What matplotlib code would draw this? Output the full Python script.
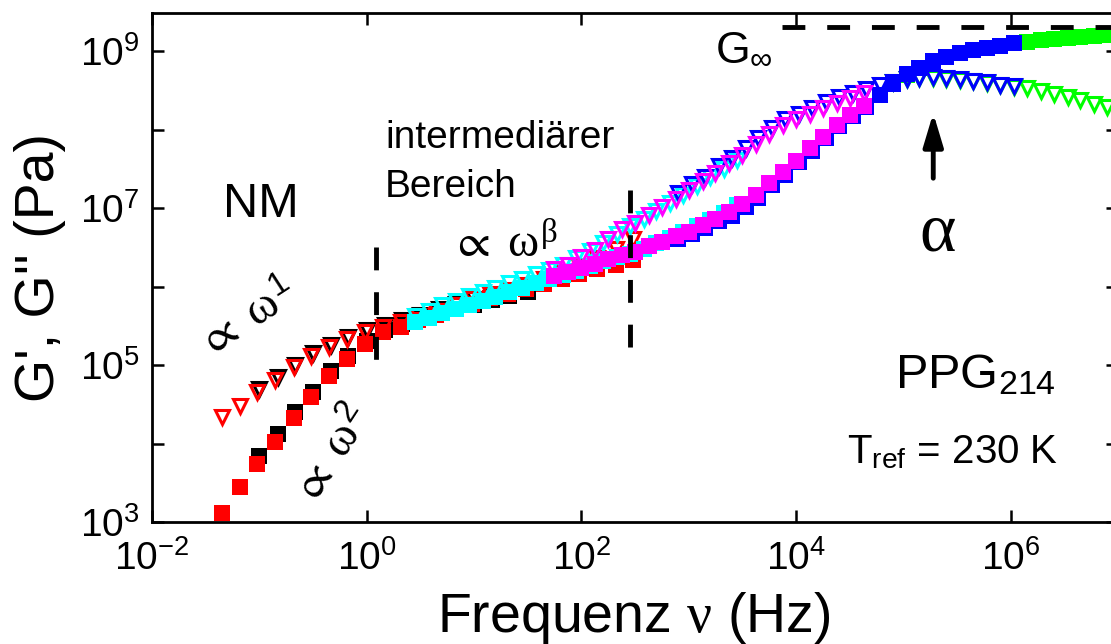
import matplotlib.pyplot as plt
import numpy as np
from matplotlib.ticker import FixedLocator, NullFormatter, NullLocator

plt.rcParams['font.family'] = ['Liberation Sans', 'DejaVu Sans']
plt.rcParams['mathtext.fontset'] = 'custom'
plt.rcParams['mathtext.rm'] = 'Liberation Sans'
plt.rcParams['mathtext.it'] = 'Liberation Serif'
plt.rcParams['mathtext.bf'] = 'Liberation Sans:bold'
plt.rcParams['mathtext.fallback'] = 'stix'

# master curve, shifted to T_ref = 230 K
# all values as log10: frequency (Hz), G' (Pa), G'' (Pa)
lf_black = [-1.00, -0.83, -0.67, -0.50, -0.33, -0.17, 0.00, 0.17, 0.33, 0.50, 0.67, 0.83,
            1.00, 1.17, 1.33, 1.50]
gp_black = [3.84, 4.12, 4.40, 4.66, 4.92, 5.12, 5.31, 5.45, 5.52, 5.60, 5.66, 5.72,
            5.77, 5.83, 5.88, 5.93]
gpp_black = [4.70, 4.85, 5.00, 5.15, 5.26, 5.36, 5.44, 5.51, 5.57, 5.64, 5.71, 5.78,
             5.84, 5.89, 5.93, 5.97]

lf_red = [-1.35, -1.18, -1.02, -0.85, -0.68, -0.52, -0.35, -0.18, -0.02, 0.15, 0.32, 0.48,
          0.65, 0.82, 0.98, 1.15, 1.32, 1.48, 1.65, 1.82, 1.98, 2.15, 2.32, 2.48]
gp_red = [3.12, 3.44, 3.74, 4.02, 4.33, 4.59, 4.86, 5.08, 5.27, 5.42, 5.49, 5.57,
          5.64, 5.71, 5.78, 5.85, 5.91, 5.97, 6.03, 6.10, 6.16, 6.22, 6.28, 6.34]
gpp_red = [4.34, 4.48, 4.66, 4.81, 4.97, 5.12, 5.23, 5.33, 5.42, 5.49, 5.55, 5.62,
           5.69, 5.77, 5.84, 5.90, 5.96, 6.02, 6.10, 6.18, 6.26, 6.36, 6.48, 6.60]

lf_cyan = [0.45, 0.58, 0.70, 0.83, 0.95, 1.08, 1.20, 1.33, 1.45, 1.58, 1.70, 1.83, 1.95,
           2.08, 2.20, 2.33, 2.45, 2.58, 2.70, 2.83, 2.95, 3.08, 3.20, 3.33, 3.45]
gp_cyan = [5.55, 5.60, 5.66, 5.72, 5.77, 5.82, 5.87, 5.93, 5.98, 6.04, 6.09, 6.15, 6.20,
           6.26, 6.32, 6.37, 6.42, 6.48, 6.55, 6.62, 6.69, 6.77, 6.85, 6.94, 7.04]
gpp_cyan = [5.63, 5.69, 5.76, 5.82, 5.88, 5.93, 5.98, 6.04, 6.10, 6.16, 6.21, 6.27, 6.36,
            6.45, 6.56, 6.67, 6.77, 6.86, 6.96, 7.06, 7.17, 7.28, 7.39, 7.50, 7.61]

lf_magenta = [1.75, 1.88, 2.00, 2.13, 2.25, 2.38, 2.50, 2.63, 2.75, 2.88, 3.00, 3.13,
              3.25, 3.38, 3.50, 3.63, 3.75, 3.88, 4.00, 4.13, 4.25, 4.38, 4.50, 4.63]
gp_magenta = [6.13, 6.19, 6.23, 6.29, 6.35, 6.40, 6.44, 6.51, 6.57, 6.64, 6.70, 6.78,
              6.86, 6.95, 7.05, 7.17, 7.32, 7.46, 7.60, 7.76, 7.91, 8.06, 8.19, 8.30]
gpp_magenta = [6.22, 6.28, 6.37, 6.47, 6.60, 6.73, 6.81, 6.91, 7.01, 7.12, 7.23, 7.34,
               7.45, 7.57, 7.68, 7.81, 7.94, 8.06, 8.14, 8.20, 8.27, 8.34, 8.40, 8.46]

lf_blue = [2.90, 3.03, 3.15, 3.28, 3.40, 3.53, 3.65, 3.78, 3.90, 4.03, 4.15, 4.28, 4.40,
           4.53, 4.65, 4.78, 4.90, 5.03, 5.15, 5.28, 5.40, 5.53, 5.65, 5.78, 5.90, 6.03]
gp_blue = [6.60, 6.67, 6.74, 6.83, 6.90, 7.01, 7.13, 7.29, 7.42, 7.58, 7.73, 7.89, 8.04,
           8.17, 8.29, 8.44, 8.58, 8.71, 8.79, 8.87, 8.92, 8.97, 9.01, 9.04, 9.07, 9.10]
gpp_blue = [7.19, 7.30, 7.40, 7.53, 7.64, 7.76, 7.89, 8.02, 8.13, 8.20, 8.27, 8.35, 8.41,
            8.46, 8.51, 8.57, 8.61, 8.645, 8.66, 8.665, 8.655, 8.64, 8.62, 8.60, 8.57, 8.55]

lf_green = [4.90, 5.03, 5.15, 5.28, 5.40, 5.53, 5.65, 5.78, 5.90, 6.03, 6.15, 6.28,
            6.40, 6.53, 6.65, 6.78, 6.90]
gp_green = [8.58, 8.70, 8.78, 8.86, 8.92, 8.97, 9.01, 9.04, 9.07, 9.10, 9.12, 9.14,
            9.155, 9.165, 9.18, 9.19, 9.205]
gpp_green = [8.60, 8.64, 8.655, 8.66, 8.65, 8.635, 8.615, 8.595, 8.565, 8.545, 8.525,
             8.485, 8.45, 8.415, 8.38, 8.33, 8.29]

series = [
    (lf_black, gp_black, gpp_black, '#000000'),
    (lf_red, gp_red, gpp_red, '#ff0000'),
    (lf_cyan, gp_cyan, gpp_cyan, '#00ffff'),
    (lf_green, gp_green, gpp_green, '#00ff00'),
    (lf_blue, gp_blue, gpp_blue, '#0000ff'),
    (lf_magenta, gp_magenta, gpp_magenta, '#ff00ff'),
]

# region borders, G_inf level and alpha peak
nu_nm = 1.22
nu_int = 285.0
g_inf = 2.05e9
nu_alpha = 1.9e5

fig = plt.figure(figsize=(11.11, 6.44), dpi=100)
ax = fig.add_axes([0.1368, 0.1894, 0.8695, 0.7904])

for lf, lgp, lgpp, col in series:
    f = 10 ** np.array(lf)
    ax.plot(f, 10 ** np.array(lgpp), 'v', ls='none', ms=10.5, mfc='none', mec=col, mew=2.2)
    ax.plot(f, 10 ** np.array(lgp), 's', ls='none', ms=11.5, mfc=col, mec=col, mew=0)

ax.set_xscale('log')
ax.set_yscale('log')
ax.set_xlim(1e-2, 1e7)
ax.set_ylim(1e3, 3.05e9)

ax.xaxis.set_major_locator(FixedLocator([1e-2, 1e0, 1e2, 1e4, 1e6]))
ax.xaxis.set_minor_locator(NullLocator())
ax.yaxis.set_major_locator(FixedLocator([1e3, 1e5, 1e7, 1e9]))
ax.yaxis.set_minor_locator(FixedLocator([1e4, 1e6, 1e8]))
ax.yaxis.set_minor_formatter(NullFormatter())
ax.tick_params(which='both', direction='in', top=True, right=True,
               length=8.5, width=1.8, labelsize=28)
ax.tick_params(axis='x', pad=13)
ax.tick_params(axis='y', pad=9)
for sp in ax.spines.values():
    sp.set_linewidth(2)

# dashed markers
dash = dict(color='k', lw=3.5, dashes=(4.7, 4.5))
ax.plot([nu_nm, nu_nm], [10 ** 6.50, 10 ** 5.06], **dash)
ax.plot([nu_int, nu_int], [10 ** 7.23, 10 ** 5.19], **dash)
ax.plot([10 ** 3.87, 1e7], [g_inf, g_inf], **dash)

ax.annotate('', xy=(nu_alpha, 10 ** 8.21), xytext=(nu_alpha, 10 ** 7.38),
            arrowprops=dict(arrowstyle='-|>,head_width=0.3,head_length=1.0',
                            mutation_scale=20, lw=3.5, color='k',
                            shrinkA=0, shrinkB=0))
ax.text(10 ** 5.316, 10 ** 6.465, 'α', fontsize=50, ha='center', va='baseline',
        family=['Liberation Serif', 'DejaVu Serif'])

ax.text(10 ** -0.984, 10 ** 6.885, 'NM', fontsize=35, ha='center', va='baseline')
ax.text(10 ** 0.171, 10 ** 7.764, 'intermediärer', fontsize=28, ha='left', va='baseline')
ax.text(10 ** 0.171, 10 ** 7.140, 'Bereich', fontsize=28, ha='left', va='baseline')
ax.text(10 ** 0.78, 10 ** 6.376, r'$\propto\;\omega^{\beta}$', fontsize=34,
        ha='left', va='baseline')
ax.text(10 ** -1.105, 10 ** 5.573, r'$\propto\;\omega^{1}$', fontsize=34,
        ha='center', va='center', rotation=33)
ax.text(10 ** -0.313, 10 ** 3.84, r'$\propto\;\omega^{2}$', fontsize=34,
        ha='center', va='center', rotation=57)
ax.text(10 ** 3.247, 10 ** 8.885, r'G$_{\infty}$', fontsize=32, ha='left', va='baseline')
ax.text(10 ** 4.925, 10 ** 4.707, r'PPG$_{214}$', fontsize=35, ha='left', va='baseline')
ax.text(10 ** 4.477, 10 ** 3.752, r'T$_{\rm ref}$ = 230 K', fontsize=29,
        ha='left', va='baseline')

fig.text(634 / 1111, 1 - 632 / 644, r'Frequenz $\nu$ (Hz)', fontsize=40,
         ha='center', va='baseline')
fig.text(40 / 1111, 1 - 268 / 644, "G', G'' (Pa)", fontsize=40,
         ha='center', va='center', rotation=90)

fig.savefig('out.png', dpi=100)
